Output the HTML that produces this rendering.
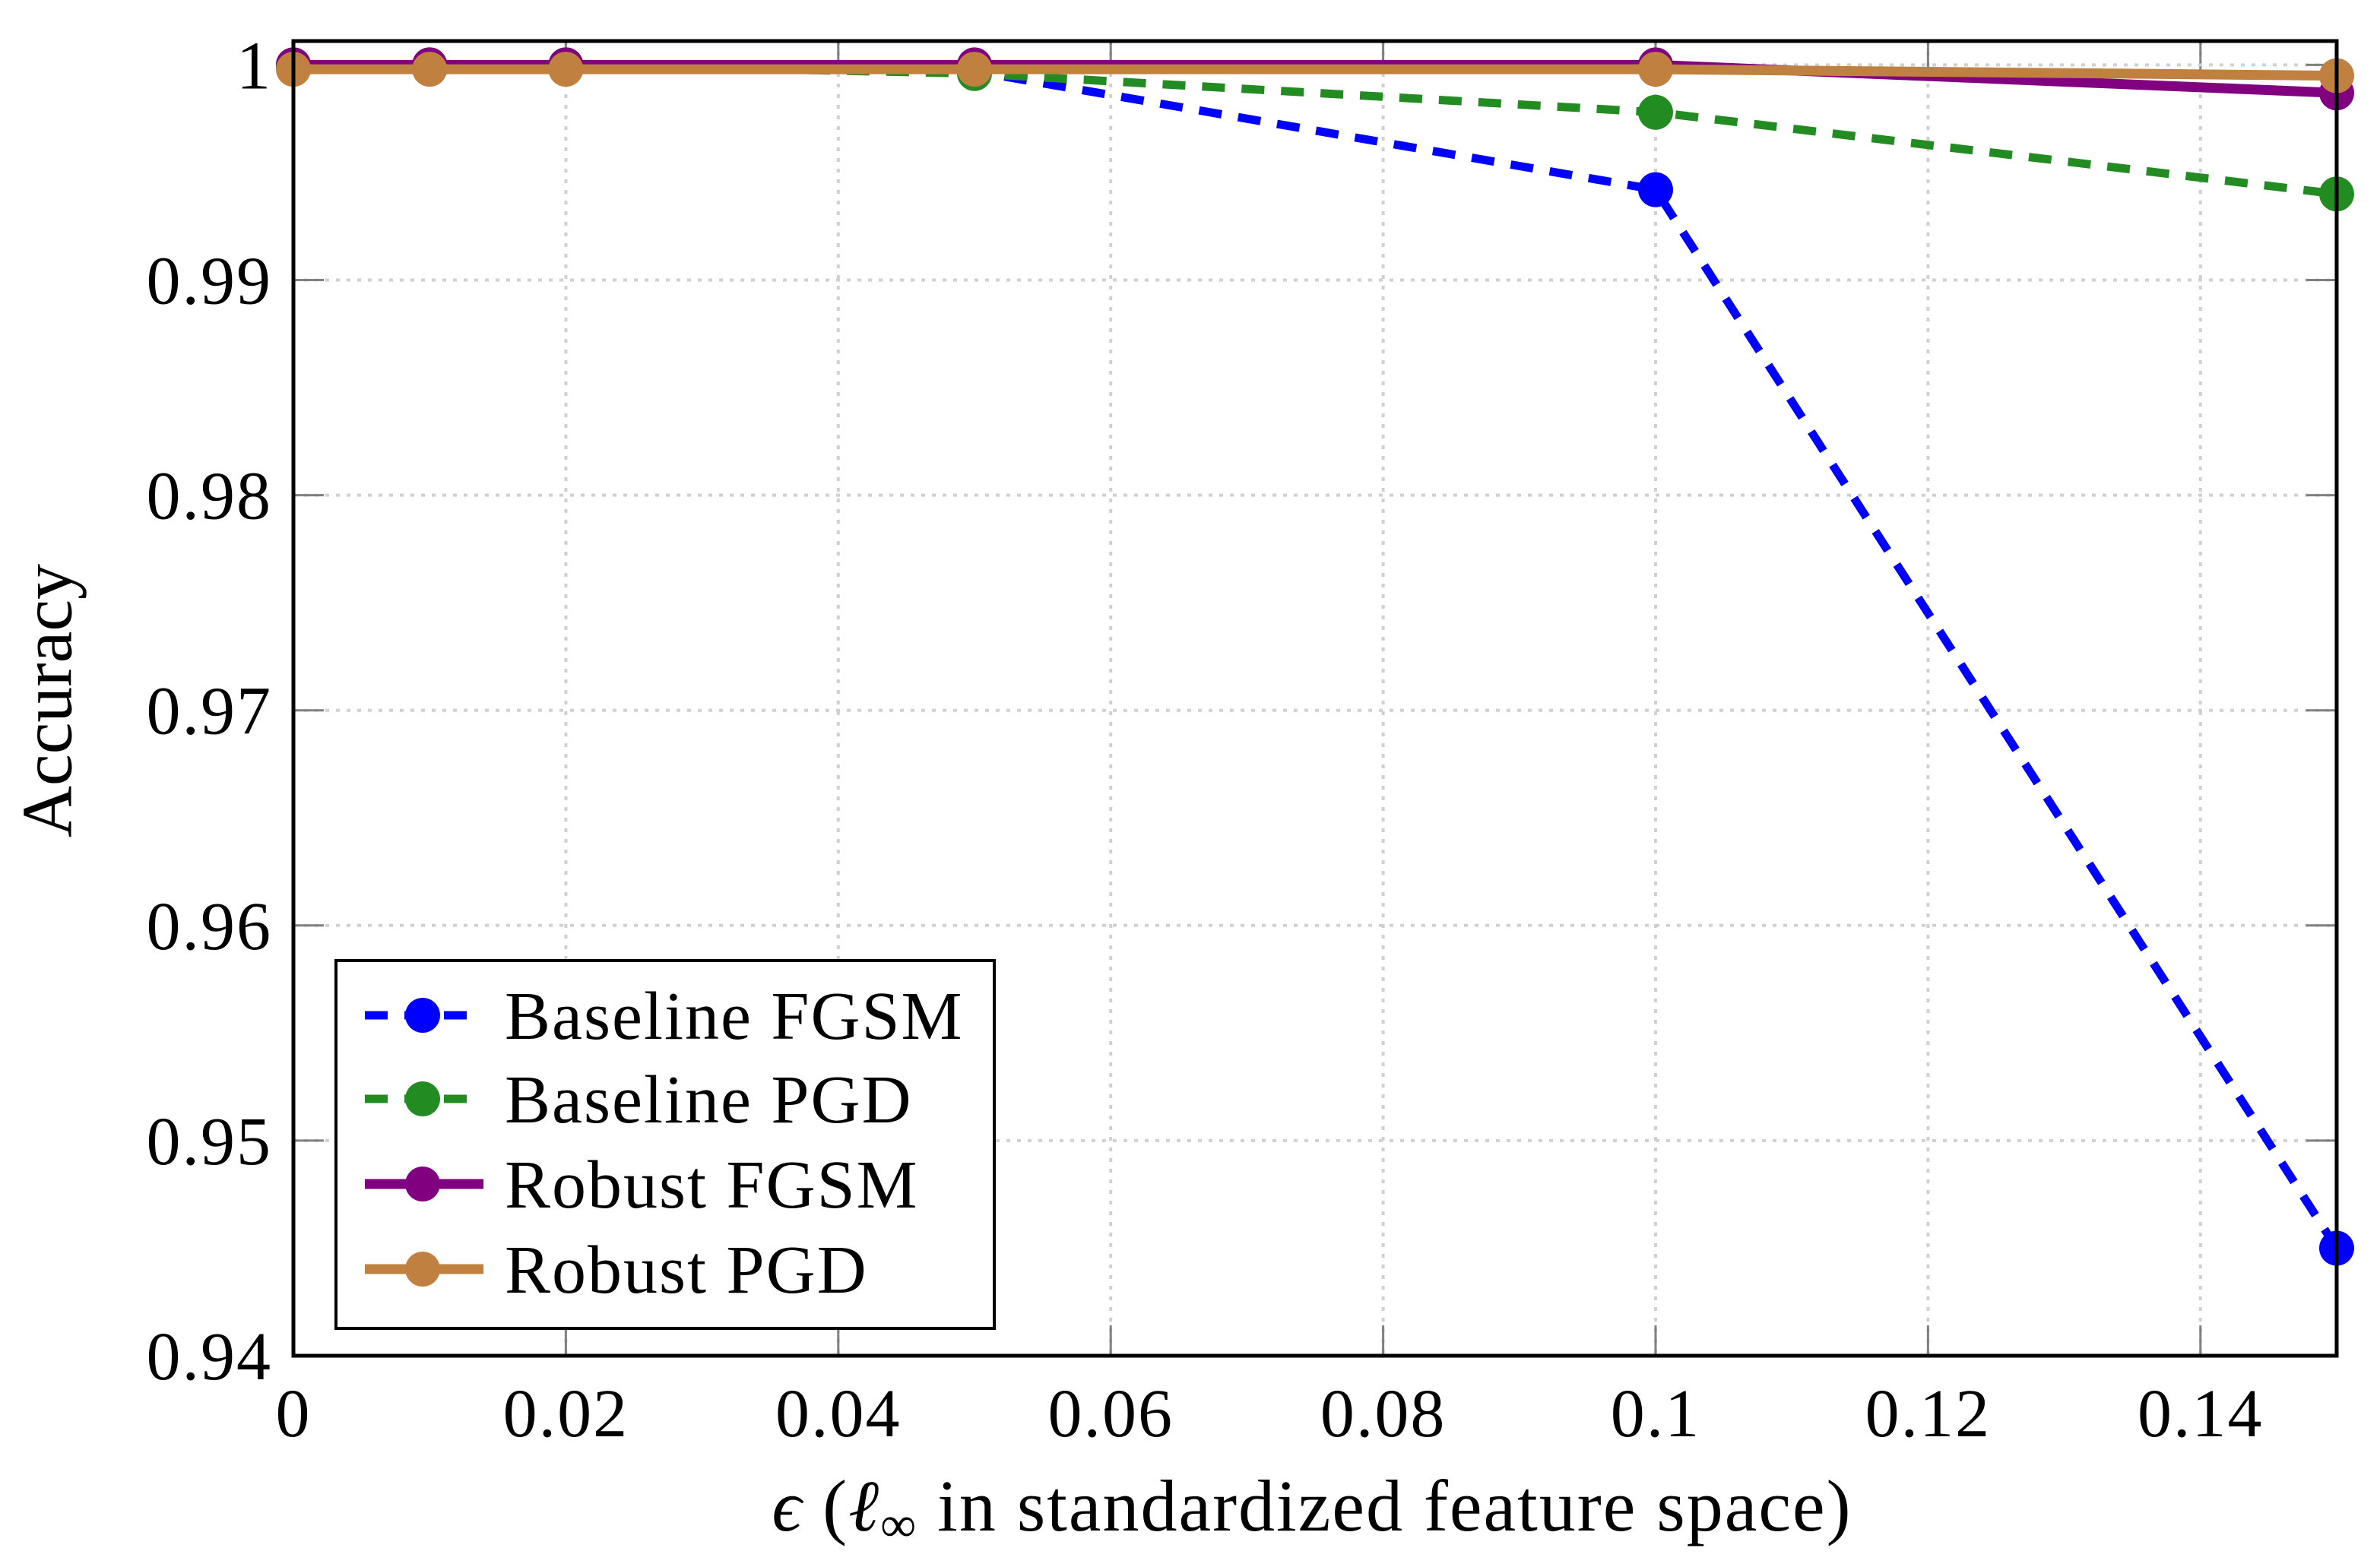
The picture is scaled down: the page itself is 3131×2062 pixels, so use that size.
<!DOCTYPE html>
<html><head><meta charset="utf-8"><style>
body{margin:0;background:#fff}
svg{display:block}
text{font-family:"Liberation Serif",serif;fill:#000}
</style></head><body>
<svg id="chart" width="3131" height="2062" viewBox="0 0 3131 2062">
<g id="grid"></g>
<g id="series"></g>
<rect x="386" y="54" width="2688" height="1730" fill="none" stroke="#000" stroke-width="5"/>
<g id="ticks"></g>
<text x="72" y="922" font-size="94" text-anchor="middle" transform="rotate(-90 72 922)" dominant-baseline="middle">Accuracy</text>
<text x="1726" y="2014" font-size="96" text-anchor="middle" letter-spacing="2"><tspan font-style="italic">ϵ</tspan> (<tspan font-style="italic">ℓ</tspan><tspan font-size="66" dy="14">∞</tspan><tspan dy="-14"> in standardized feature space)</tspan></text>
<g id="legend"></g>
</svg>
<script>
const xValues=[0,0.01,0.02,0.05,0.1,0.15];
const baselineFGSM=[1,1,1,0.9997,0.9942,0.945];
const baselinePGD=[1,1,1,0.9996,0.9978,0.994];
const robustFGSM=[1,1,1,1,1,0.9987];
const robustPGD=[0.9998,0.9998,0.9998,0.9998,0.9998,0.9995];
const xTicks=[0,0.02,0.04,0.06,0.08,0.1,0.12,0.14];
const xTickLabels=["0","0.02","0.04","0.06","0.08","0.1","0.12","0.14"];
const yTicks=[0.94,0.95,0.96,0.97,0.98,0.99,1];
const yTickLabels=["0.94","0.95","0.96","0.97","0.98","0.99","1"];
const seriesNames=["Baseline FGSM","Baseline PGD","Robust FGSM","Robust PGD"];

const L=386,R=3074,T=54,B=1784,X0=0,X1=0.15,Y0=0.94,Y1=1.00111;
const sx=v=>L+(v-X0)/(X1-X0)*(R-L);
const sy=v=>B-(v-Y0)/(Y1-Y0)*(B-T);
const NS="http://www.w3.org/2000/svg";
function mk(tag,attrs,parent){const e=document.createElementNS(NS,tag);for(const k in attrs)e.setAttribute(k,attrs[k]);parent.appendChild(e);return e;}
const grid=document.getElementById('grid'),ticks=document.getElementById('ticks'),series=document.getElementById('series'),legend=document.getElementById('legend');
xTicks.forEach((v,i)=>{
  const l=mk('line',{x1:sx(v),x2:sx(v),y1:T,y2:B,stroke:'#d0d0d0','stroke-width':4,'stroke-dasharray':'5 9'},grid);
  
  
  mk('line',{x1:sx(v),x2:sx(v),y1:B,y2:B-40,stroke:'#808080','stroke-width':3},grid);
  mk('line',{x1:sx(v),x2:sx(v),y1:T,y2:T+40,stroke:'#808080','stroke-width':3},grid);
  const t=mk('text',{x:sx(v),y:1890,'font-size':90,'text-anchor':'middle','letter-spacing':2},ticks);
  t.textContent=xTickLabels[i];
  
  
});
yTicks.forEach((v,i)=>{
  const l=mk('line',{x1:L,x2:R,y1:sy(v),y2:sy(v),stroke:'#d0d0d0','stroke-width':4,'stroke-dasharray':'5 9'},grid);
  
  
  mk('line',{x1:L,x2:L+40,y1:sy(v),y2:sy(v),stroke:'#808080','stroke-width':3},grid);
  mk('line',{x1:R,x2:R-40,y1:sy(v),y2:sy(v),stroke:'#808080','stroke-width':3},grid);
  const t=mk('text',{x:358,y:sy(v)+31,'font-size':90,'text-anchor':'end','letter-spacing':2},ticks);
  t.textContent=yTickLabels[i];
  
  
});
const styles=[
 {data:baselineFGSM,color:'#0000ff',dash:'30 22',w:11},
 {data:baselinePGD,color:'#228b22',dash:'30 22',w:11},
 {data:robustFGSM,color:'#800080',dash:'',w:13},
 {data:robustPGD,color:'#bf8040',dash:'',w:13}];
const names=['baseline-fgsm','baseline-pgd','robust-fgsm','robust-pgd'];
styles.forEach((s,k)=>{
  const g=mk('g',{},series);
  
  
  const p=mk('polyline',{points:xValues.map((x,i)=>sx(x)+','+sy(s.data[i])).join(' '),fill:'none',stroke:s.color,'stroke-width':s.w,'stroke-dasharray':s.dash},g);
  
  
  xValues.forEach((x,i)=>{
    const c=mk('circle',{cx:sx(x),cy:sy(s.data[i]),r:23,fill:s.color},g);
    
    
  });
});
const box=mk('rect',{x:442,y:1264,width:866,height:484,fill:'#fff',stroke:'#000',"stroke-width":4},legend);


const ly=[1336,1446,1558,1670];
styles.forEach((s,k)=>{
  const g=mk('g',{},legend);
  
  
  mk('line',{x1:480,x2:636,y1:ly[k],y2:ly[k],stroke:s.color,'stroke-width':s.w,'stroke-dasharray':s.dash},g);
  mk('circle',{cx:556,cy:ly[k],r:23,fill:s.color},g);
  const t=mk('text',{x:664,y:ly[k]+31,'font-size':90,'letter-spacing':2},g);
  t.textContent=seriesNames[k];
});
</script>
</body></html>
